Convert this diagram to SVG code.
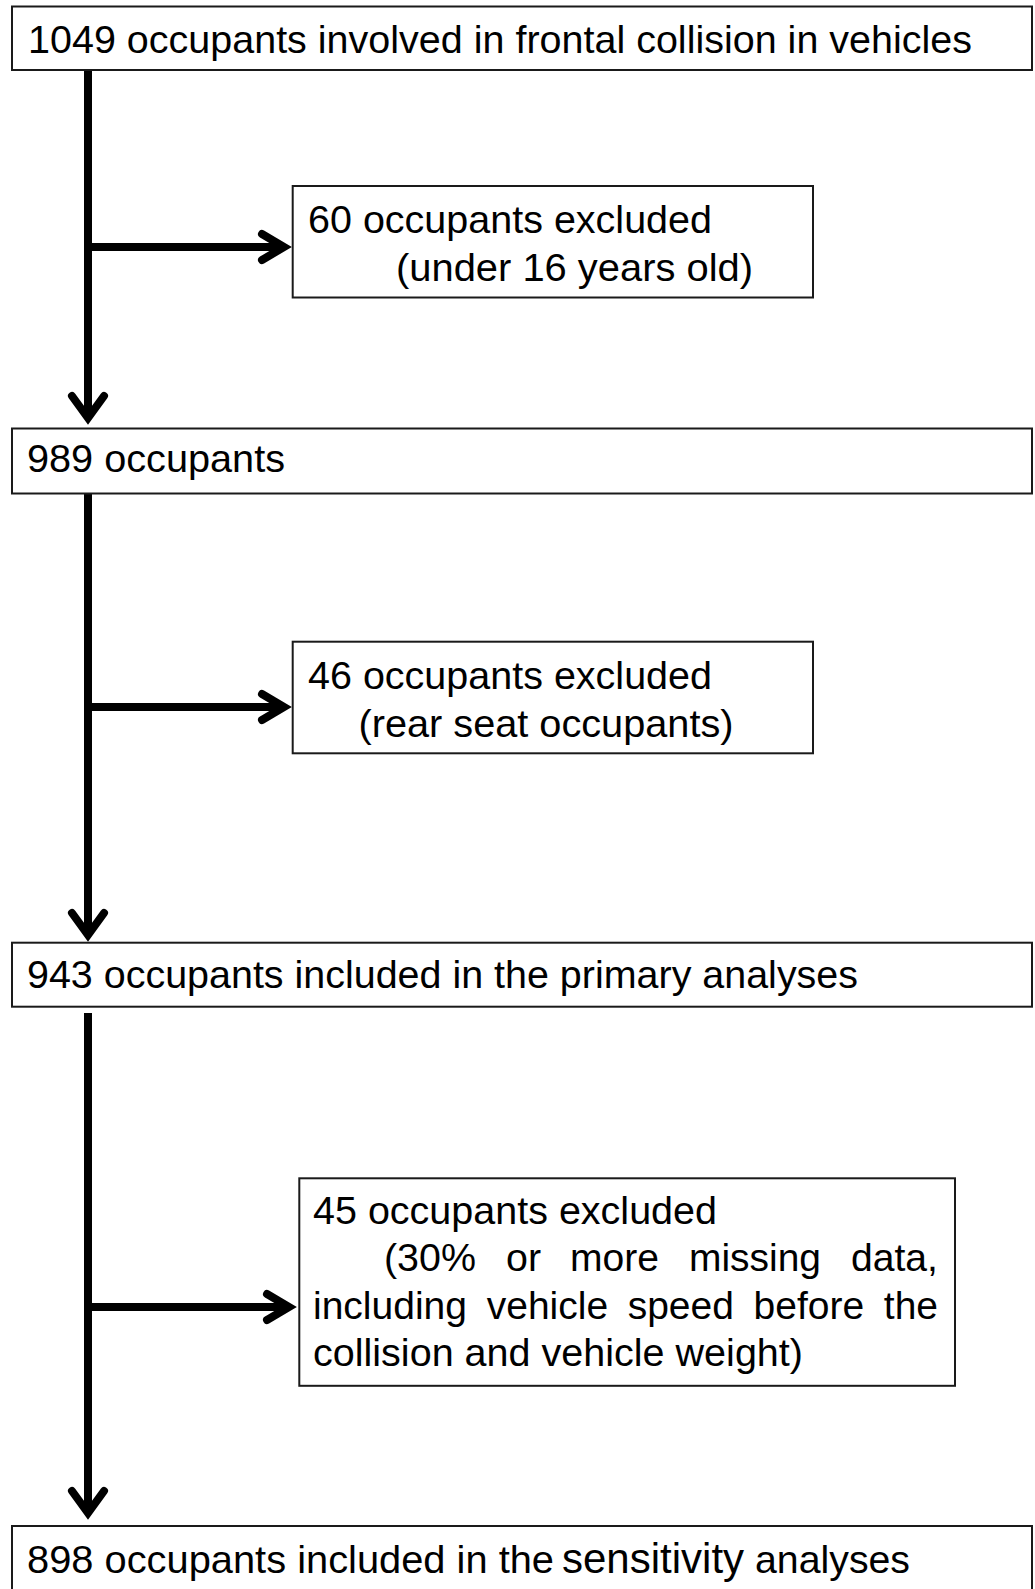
<svg xmlns="http://www.w3.org/2000/svg" width="1035" height="1589" viewBox="0 0 1035 1589">
<style>
.box{fill:#fff;stroke:#1a1a1a;stroke-width:2}
.t{font-family:"Liberation Sans",Arial,sans-serif;font-size:38.5px;fill:#000}
.ln{stroke:#000;stroke-width:8;fill:none}
.hd{stroke:#000;stroke-width:8;fill:none;stroke-linecap:round;stroke-linejoin:miter;stroke-miterlimit:10}
</style>
<rect width="1035" height="1589" fill="#fff"/>
<g id="connectors">
<line class="ln" x1="88" y1="70" x2="88" y2="419"/>
<path class="hd" d="M72,396 L88,418 L104,396"/>
<line class="ln" x1="88" y1="247" x2="284" y2="247"/>
<path class="hd" d="M262,234 L284,247 L262,260"/>
<line class="ln" x1="88" y1="493" x2="88" y2="936"/>
<path class="hd" d="M72,913 L88,935 L104,913"/>
<line class="ln" x1="88" y1="707" x2="284" y2="707"/>
<path class="hd" d="M262,694 L284,707 L262,720"/>
<line class="ln" x1="88" y1="1013" x2="88" y2="1514"/>
<path class="hd" d="M72,1491 L88,1513 L104,1491"/>
<line class="ln" x1="88" y1="1307" x2="289" y2="1307"/>
<path class="hd" d="M267,1294 L289,1307 L267,1320"/>
</g>
<g id="n1">
<rect class="box" x="12" y="6.5" width="1020" height="63.5"/>
<text class="t" x="28" y="52.7" textLength="944" lengthAdjust="spacingAndGlyphs">1049 occupants involved in frontal collision in vehicles</text>
</g>
<g id="n2">
<rect class="box" x="292.7" y="186" width="520.3" height="111.5"/>
<text class="t" x="308" y="233.3" textLength="404" lengthAdjust="spacingAndGlyphs">60 occupants excluded</text>
<text class="t" x="396" y="280.5" textLength="357" lengthAdjust="spacingAndGlyphs">(under 16 years old)</text>
</g>
<g id="n3">
<rect class="box" x="12" y="428.5" width="1020" height="65"/>
<text class="t" x="27" y="471.7" textLength="258" lengthAdjust="spacingAndGlyphs">989 occupants</text>
</g>
<g id="n4">
<rect class="box" x="292.7" y="641.7" width="520.3" height="111.6"/>
<text class="t" x="308" y="689.3" textLength="404" lengthAdjust="spacingAndGlyphs">46 occupants excluded</text>
<text class="t" x="358.5" y="736.8" textLength="375" lengthAdjust="spacingAndGlyphs">(rear seat occupants)</text>
</g>
<g id="n5">
<rect class="box" x="12" y="942.7" width="1020" height="64"/>
<text class="t" x="27" y="988.4" textLength="831" lengthAdjust="spacingAndGlyphs">943 occupants included in the primary analyses</text>
</g>
<g id="n6">
<rect class="box" x="299.3" y="1178.3" width="655.7" height="207.5"/>
<text class="t" x="313" y="1223.5" textLength="404" lengthAdjust="spacingAndGlyphs">45 occupants excluded</text>
<text class="t" x="384" y="1271" textLength="92" lengthAdjust="spacingAndGlyphs">(30%</text>
<text class="t" x="506" y="1271" textLength="35" lengthAdjust="spacingAndGlyphs">or</text>
<text class="t" x="570" y="1271" textLength="89" lengthAdjust="spacingAndGlyphs">more</text>
<text class="t" x="689" y="1271" textLength="132" lengthAdjust="spacingAndGlyphs">missing</text>
<text class="t" x="851" y="1271" textLength="87" lengthAdjust="spacingAndGlyphs">data,</text>
<text class="t" x="313" y="1318.5" textLength="154" lengthAdjust="spacingAndGlyphs">including</text>
<text class="t" x="486.7" y="1318.5" textLength="121.4" lengthAdjust="spacingAndGlyphs">vehicle</text>
<text class="t" x="627.7" y="1318.5" textLength="106.2" lengthAdjust="spacingAndGlyphs">speed</text>
<text class="t" x="753.6" y="1318.5" textLength="110.6" lengthAdjust="spacingAndGlyphs">before</text>
<text class="t" x="883.8" y="1318.5" textLength="54.2" lengthAdjust="spacingAndGlyphs">the</text>
<text class="t" x="313" y="1366" textLength="490" lengthAdjust="spacingAndGlyphs">collision and vehicle weight)</text>
</g>
<g id="n7">
<rect class="box" x="12" y="1526" width="1020" height="80"/>
<text class="t" x="27" y="1573" textLength="527" lengthAdjust="spacingAndGlyphs">898 occupants included in the</text>
<text class="t" x="562" y="1573" font-size="42" style="font-size:42px">sensitivity</text>
<text class="t" x="755" y="1573" textLength="155" lengthAdjust="spacingAndGlyphs">analyses</text>
</g>
</svg>
